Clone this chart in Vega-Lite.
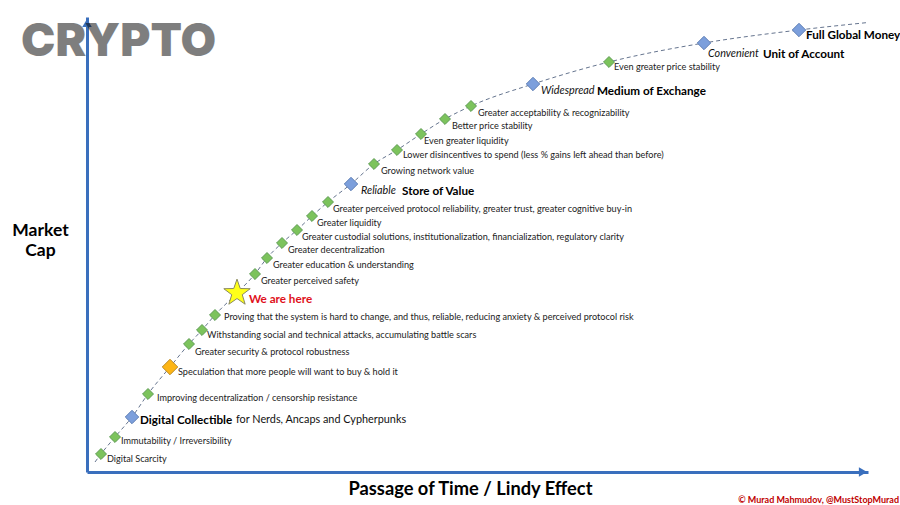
{
  "$schema": "https://vega.github.io/schema/vega-lite/v6.json",
  "width": 781,
  "height": 455,
  "autosize": "none",
  "padding": {"left": 87, "top": 17, "right": 32, "bottom": 33},
  "background": "white",
  "datasets": {
    "points": [
      {"time": 8, "cap": 10, "stage": "end"},
      {"time": 14, "cap": 18, "stage": "step"},
      {"time": 28, "cap": 35, "stage": "step"},
      {"time": 45, "cap": 55, "stage": "milestone"},
      {"time": 61, "cap": 78, "stage": "step"},
      {"time": 83, "cap": 105, "stage": "speculation"},
      {"time": 102, "cap": 128, "stage": "step"},
      {"time": 115, "cap": 142, "stage": "step"},
      {"time": 128, "cap": 157, "stage": "step"},
      {"time": 150, "cap": 179, "stage": "now"},
      {"time": 168, "cap": 198, "stage": "step"},
      {"time": 180, "cap": 214, "stage": "step"},
      {"time": 195, "cap": 229, "stage": "step"},
      {"time": 210, "cap": 242, "stage": "step"},
      {"time": 225, "cap": 256, "stage": "step"},
      {"time": 241, "cap": 270, "stage": "step"},
      {"time": 264, "cap": 288, "stage": "milestone"},
      {"time": 287, "cap": 308, "stage": "step"},
      {"time": 310, "cap": 322, "stage": "step"},
      {"time": 334, "cap": 338, "stage": "step"},
      {"time": 358, "cap": 353, "stage": "step"},
      {"time": 384, "cap": 366, "stage": "step"},
      {"time": 446, "cap": 388, "stage": "milestone"},
      {"time": 522, "cap": 410, "stage": "step"},
      {"time": 617, "cap": 429, "stage": "milestone"},
      {"time": 712, "cap": 442, "stage": "milestone"},
      {"time": 781, "cap": 449.5, "stage": "end"}
    ],
    "notes": [
      {"time": 20, "cap": 13, "label": "Digital Scarcity"},
      {"time": 34, "cap": 31, "label": "Immutability / Irreversibility"},
      {"time": 70, "cap": 74, "label": "Improving decentralization / censorship resistance"},
      {"time": 91, "cap": 100, "label": "Speculation that more people will want to buy & hold it"},
      {"time": 108, "cap": 120.5, "label": "Greater security & protocol robustness"},
      {"time": 120, "cap": 137.5, "label": "Withstanding social and technical attacks, accumulating battle scars"},
      {"time": 137, "cap": 155, "label": "Proving that the system is hard to change, and thus, reliable, reducing anxiety & perceived protocol risk"},
      {"time": 174, "cap": 191, "label": "Greater perceived safety"},
      {"time": 186, "cap": 207, "label": "Greater education & understanding"},
      {"time": 201, "cap": 222, "label": "Greater decentralization"},
      {"time": 215, "cap": 235, "label": "Greater custodial solutions, institutionalization, financialization, regulatory clarity"},
      {"time": 230, "cap": 249, "label": "Greater liquidity"},
      {"time": 246, "cap": 263, "label": "Greater perceived protocol reliability, greater trust, greater cognitive buy-in"},
      {"time": 294, "cap": 301, "label": "Growing network value"},
      {"time": 316, "cap": 317, "label": "Lower disincentives to spend (less % gains left ahead than before)"},
      {"time": 337, "cap": 331, "label": "Even greater liquidity"},
      {"time": 365, "cap": 346, "label": "Better price stability"},
      {"time": 391, "cap": 359, "label": "Greater acceptability & recognizability"},
      {"time": 527, "cap": 405, "label": "Even greater price stability"}
    ],
    "names": [
      {"time": 53, "cap": 52, "label": "Digital Collectible"},
      {"time": 315, "cap": 281, "label": "Store of Value"},
      {"time": 510, "cap": 381, "label": "Medium of Exchange"},
      {"time": 676, "cap": 418, "label": "Unit of Account"},
      {"time": 719, "cap": 437, "label": "Full Global Money"}
    ],
    "qualifiers": [
      {"time": 274, "cap": 281, "label": "Reliable"},
      {"time": 454, "cap": 381, "label": "Widespread"},
      {"time": 621, "cap": 418, "label": "Convenient"}
    ],
    "audience": [
      {"time": 149, "cap": 52, "label": "for Nerds, Ancaps and Cypherpunks"}
    ],
    "here": [
      {"time": 162, "cap": 173, "label": "We are here"}
    ],
    "credit": [
      {"time": 812, "cap": -28, "label": "© Murad Mahmudov, @MustStopMurad"}
    ],
    "brand": [
      {"time": -66, "cap": 430, "label": "CRYPTO"}
    ],
    "arrows": [
      {"time": 0, "cap": 449, "dir": "up"},
      {"time": 776, "cap": 0, "dir": "right"}
    ]
  },
  "encoding": {
    "x": {
      "field": "time",
      "type": "quantitative",
      "scale": {"domain": [0, 781], "nice": false, "zero": false},
      "axis": {
        "title": "Passage of Time / Lindy Effect",
        "titleFont": "Lato",
        "titleFontSize": 18.3,
        "titleFontWeight": "bold",
        "titleColor": "#000000",
        "titleX": 383,
        "titleY": 17,
        "titleBaseline": "middle",
        "domainColor": "#3a6fbd",
        "domainWidth": 3,
        "ticks": false,
        "labels": false,
        "grid": false
      }
    },
    "y": {
      "field": "cap",
      "type": "quantitative",
      "scale": {"domain": [0, 455], "nice": false, "zero": false},
      "axis": {
        "title": ["Market", "Cap"],
        "titleFont": "Lato",
        "titleFontSize": 17.5,
        "titleFontWeight": "bold",
        "titleColor": "#000000",
        "titleAngle": 0,
        "titleAlign": "center",
        "titleBaseline": "middle",
        "titleLineHeight": 20,
        "titleX": -47,
        "titleY": 213,
        "domainColor": "#3a6fbd",
        "domainWidth": 3,
        "ticks": false,
        "labels": false,
        "grid": false
      }
    }
  },
  "resolve": {"scale": {"shape": "independent"}},
  "layer": [
    {
      "data": {"name": "arrows"},
      "mark": {"type": "point", "filled": true, "size": 90, "opacity": 1, "fill": "#3a6fbd"},
      "encoding": {
        "shape": {
          "field": "dir",
          "type": "nominal",
          "scale": {"domain": ["up", "right"], "range": ["triangle-up", "triangle-right"]},
          "legend": null
        }
      }
    },
    {
      "data": {"name": "brand"},
      "mark": {"type": "text", "align": "left", "baseline": "middle", "font": "Inter", "fontWeight": 900, "fontSize": 46, "fill": "#000000", "opacity": 0.5},
      "encoding": {"text": {"field": "label"}}
    },
    {
      "data": {"name": "points"},
      "mark": {"type": "line", "color": "#66758f", "strokeWidth": 1, "strokeDash": [4, 3], "interpolate": "monotone"},
      "encoding": {"order": {"field": "time", "type": "quantitative"}}
    },
    {
      "data": {"name": "points"},
      "transform": [{"filter": "datum.stage != 'end'"}],
      "mark": {"type": "point", "filled": true, "opacity": 1, "strokeWidth": 1},
      "encoding": {
        "shape": {
          "field": "stage",
          "type": "nominal",
          "scale": {
            "domain": ["step", "milestone", "speculation", "now"],
            "range": ["diamond", "diamond", "diamond", "M0,-1.6L0.376,-0.518L1.522,-0.494L0.608,0.198L0.941,1.294L0,0.64L-0.941,1.294L-0.608,0.198L-1.522,-0.494L-0.376,-0.518Z"]
          },
          "legend": null
        },
        "size": {
          "field": "stage",
          "type": "nominal",
          "scale": {"domain": ["step", "milestone", "speculation", "now"], "range": [120, 300, 250, 640]},
          "legend": null
        },
        "fill": {
          "field": "stage",
          "type": "nominal",
          "scale": {"domain": ["step", "milestone", "speculation", "now"], "range": ["#7cc35c", "#7c9fdc", "#fdb515", "#ffff19"]},
          "legend": null
        },
        "stroke": {
          "field": "stage",
          "type": "nominal",
          "scale": {"domain": ["step", "milestone", "speculation", "now"], "range": ["#5f9c55", "#5f7fb5", "#b98a2a", "#8a8a60"]},
          "legend": null
        }
      }
    },
    {
      "data": {"name": "notes"},
      "mark": {"type": "text", "align": "left", "baseline": "middle", "font": "Lato", "fontSize": 9.15, "fill": "#222222"},
      "encoding": {"text": {"field": "label"}}
    },
    {
      "data": {"name": "names"},
      "mark": {"type": "text", "align": "left", "baseline": "middle", "font": "Lato", "fontSize": 11.7, "fontWeight": "bold", "fill": "#000000"},
      "encoding": {"text": {"field": "label"}}
    },
    {
      "data": {"name": "qualifiers"},
      "mark": {"type": "text", "align": "left", "baseline": "middle", "font": "Lato", "fontSize": 10.8, "fontStyle": "italic", "fill": "#111111"},
      "encoding": {"text": {"field": "label"}}
    },
    {
      "data": {"name": "audience"},
      "mark": {"type": "text", "align": "left", "baseline": "middle", "font": "Lato", "fontSize": 10.85, "fill": "#111111"},
      "encoding": {"text": {"field": "label"}}
    },
    {
      "data": {"name": "here"},
      "mark": {"type": "text", "align": "left", "baseline": "middle", "font": "Lato", "fontSize": 11.7, "fontWeight": "bold", "fill": "#e0101a"},
      "encoding": {"text": {"field": "label"}}
    },
    {
      "data": {"name": "credit"},
      "mark": {"type": "text", "align": "right", "baseline": "middle", "font": "Lato", "fontSize": 9, "fontWeight": "bold", "fill": "#c00000"},
      "encoding": {"text": {"field": "label"}}
    }
  ],
  "config": {"view": {"stroke": null}}
}
